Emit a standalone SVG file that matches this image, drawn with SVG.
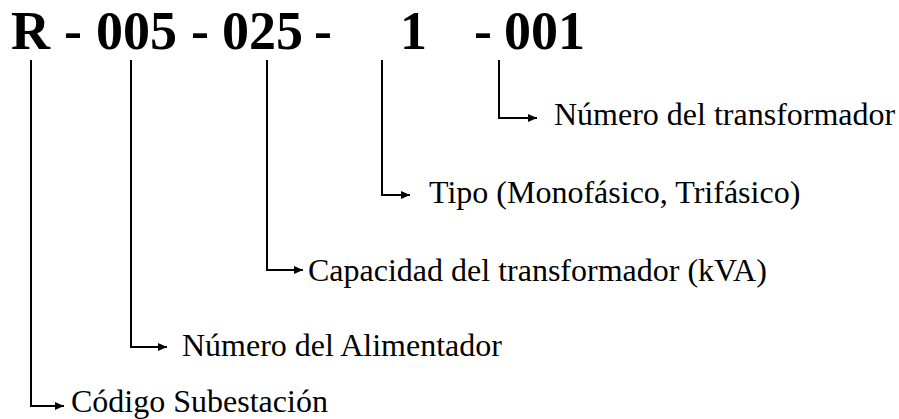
<svg xmlns="http://www.w3.org/2000/svg" width="899" height="419" viewBox="0 0 899 419">
<style>
.title{font-family:"Liberation Serif","Times New Roman",serif;font-weight:bold;font-size:54px;fill:#000}
.lbl{font-family:"Liberation Serif","Times New Roman",serif;font-size:32px;fill:#000}
.con{fill:none;stroke:#000;stroke-width:2}
</style>
<defs>
<marker id="ah" markerUnits="userSpaceOnUse" markerWidth="10" markerHeight="10" refX="9" refY="5" orient="auto">
<path d="M0,1 L9,5 L0,9 Z" fill="#000"/>
</marker>
</defs>
<g id="code">
<text class="title" y="49"><tspan x="11">R</tspan><tspan x="64">-</tspan><tspan x="96">005</tspan><tspan x="191">-</tspan><tspan x="222">025</tspan><tspan x="314">-</tspan><tspan x="400">1</tspan><tspan x="474">-</tspan><tspan x="504">001</tspan></text>
</g>
<g id="connectors">
<path class="con" d="M31,60 V406 H64" marker-end="url(#ah)"/>
<path class="con" d="M131,60 V347 H167" marker-end="url(#ah)"/>
<path class="con" d="M267,60 V270 H303" marker-end="url(#ah)"/>
<path class="con" d="M382,60 V195 H410" marker-end="url(#ah)"/>
<path class="con" d="M499,60 V118 H537" marker-end="url(#ah)"/>
</g>
<g id="n-transformador"><text class="lbl" x="554" y="125">Número del transformador</text></g>
<g id="n-tipo"><text class="lbl" x="429" y="203">Tipo (Monofásico, Trifásico)</text></g>
<g id="n-capacidad"><text class="lbl" x="308" y="281">Capacidad del transformador (kVA)</text></g>
<g id="n-alimentador"><text class="lbl" x="182" y="356">Número del Alimentador</text></g>
<g id="n-subestacion"><text class="lbl" x="71" y="412">Código Subestación</text></g>
</svg>
